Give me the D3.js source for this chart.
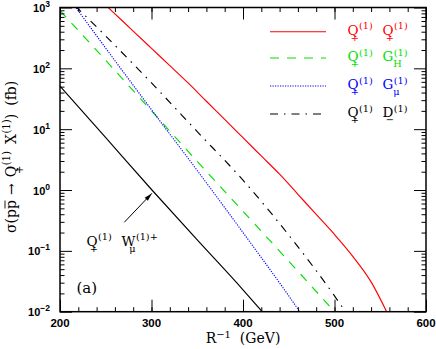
<!DOCTYPE html>
<html><head><meta charset="utf-8">
<script src="https://cdn.jsdelivr.net/npm/d3@7"></script>
<style>body{margin:0;background:#fff} svg{display:block}</style>
</head><body><svg id="c" width="436" height="349"></svg>
<script>
// ---- data (sigma in fb vs R^-1 in GeV) ----
const R_QQ   = [240,260,280,300,320,340,360,380,400,420,440,460,480,500,520,540,557];
const S_QQ   = [1514,787,409,213,111,57.5,28.8,14.5,7.24,3.63,1.82,0.851,0.398,0.186,0.0813,0.0309,0.010];
const R_QGH  = [200,250,300,350,400,450,500];
const S_QGH  = [891,135,20,2.95,0.447,0.0676,0.010];
const R_QGmu = [200,250,300,350,400,450,462];
const S_QGmu = [2291,214,20.9,2.09,0.200,0.0182,0.010];
const R_QD   = [200,250,300,350,400,450,500,512];
const S_QD   = [1862,339,57.5,9.12,1.45,0.182,0.0182,0.010];
const R_QW   = [200,250,300,350,400,421];
const S_QW   = [51,7.24,1.02,0.151,0.0229,0.010];
const xTicks = [200,300,400,500,600];
const xTickLabels = ["200","300","400","500","600"];
const yTicks = [1e-2,1e-1,1,10,100,1000];
const yTickExp = ["\u22122","\u22121","0","1","2","3"];

const svg = d3.select("#c");
const X0=60, X1=426, Y0=7.5, Y1=311.7;
const x = d3.scaleLinear([200,600],[X0,X1]);
const y = d3.scaleLog([0.01,1000],[Y1,Y0]);
const SERIF = "'DejaVu Serif', serif";
const SANS = "'Liberation Sans', Arial, sans-serif";

svg.append("clipPath").attr("id","clip").append("rect")
  .attr("x",X0).attr("y",Y0).attr("width",X1-X0).attr("height",Y1-Y0);

const series = [
  {R:R_QQ,   S:S_QQ,   color:"#ff0000", dash:null},
  {R:R_QGH,  S:S_QGH,  color:"#00e000", dash:"9,8"},
  {R:R_QGmu, S:S_QGmu, color:"#0000ff", dash:"1.2,1.3"},
  {R:R_QD,   S:S_QD,   color:"#000000", dash:"8,6,1.5,6"},
  {R:R_QW,   S:S_QW,   color:"#000000", dash:null}
];
const line = d3.line().x(d=>x(d[0])).y(d=>y(d[1])).curve(d3.curveMonotoneX);
const gc = svg.append("g").attr("clip-path","url(#clip)");
series.forEach(s=>{
  gc.append("path").attr("d", line(s.R.map((r,i)=>[r,s.S[i]])))
    .attr("fill","none").attr("stroke",s.color).attr("stroke-width",1.15)
    .attr("stroke-dasharray", s.dash);
});

// ---- axes ----
const xMinor = d3.range(200,601,20);
const yMinor = [];
for (let e=-2;e<3;e++) for (let k=2;k<10;k++) yMinor.push(k*Math.pow(10,e));
function styleAx(g){ g.select(".domain").remove(); g.selectAll("line").attr("stroke","#000").attr("stroke-width",1); g.selectAll("text").remove(); }
svg.append("g").attr("transform",`translate(0,${Y1})`).call(d3.axisBottom(x).tickValues(xMinor).tickSize(-4.5).tickFormat("")).call(styleAx);
svg.append("g").attr("transform",`translate(0,${Y1})`).call(d3.axisBottom(x).tickValues(xTicks).tickSize(-12).tickFormat("")).call(styleAx);
svg.append("g").attr("transform",`translate(0,${Y0})`).call(d3.axisTop(x).tickValues(xMinor).tickSize(-4.5).tickFormat("")).call(styleAx);
svg.append("g").attr("transform",`translate(0,${Y0})`).call(d3.axisTop(x).tickValues(xTicks).tickSize(-12).tickFormat("")).call(styleAx);
svg.append("g").attr("transform",`translate(${X0},0)`).call(d3.axisLeft(y).tickValues(yMinor).tickSize(-4.5).tickFormat("")).call(styleAx);
svg.append("g").attr("transform",`translate(${X0},0)`).call(d3.axisLeft(y).tickValues(yTicks).tickSize(-12).tickFormat("")).call(styleAx);
svg.append("g").attr("transform",`translate(${X1},0)`).call(d3.axisRight(y).tickValues(yMinor).tickSize(-4.5).tickFormat("")).call(styleAx);
svg.append("g").attr("transform",`translate(${X1},0)`).call(d3.axisRight(y).tickValues(yTicks).tickSize(-12).tickFormat("")).call(styleAx);
svg.append("rect").attr("x",X0).attr("y",Y0).attr("width",X1-X0).attr("height",Y1-Y0)
  .attr("fill","none").attr("stroke","#000").attr("stroke-width",1.5);

// tick labels
xTicks.forEach((v,i)=>{
  svg.append("text").attr("x",x(v)).attr("y",Y1+15).attr("text-anchor","middle")
    .attr("font-family",SANS).attr("font-weight","bold").attr("font-size",11.5).text(xTickLabels[i]);
});
yTicks.forEach((v,i)=>{
  const t = svg.append("text").attr("x",50).attr("y",y(v)+4.5).attr("text-anchor","end")
    .attr("font-family",SANS).attr("font-weight","bold").attr("font-size",11);
  t.append("tspan").text("10");
  t.append("tspan").attr("dy",-5).attr("font-size",8.5).text(yTickExp[i]);
});

// ---- rich text helper ----
function glyph(g, cx, yb, base, sup, sub, subFrac, fs, color){
  const t = g.append("text").attr("x",cx).attr("y",yb).attr("font-family",SERIF).attr("font-size",fs).attr("fill",color).text(base);
  const w = t.node().getComputedTextLength();
  let end = cx + w;
  const sfs = fs*0.72;
  if (sup){
    const s = g.append("text").attr("x",cx+w+0.5).attr("y",yb-fs*0.4).attr("font-family",SERIF).attr("font-size",sfs).attr("fill",color).text(sup);
    end = Math.max(end, cx+w+0.5+s.node().getComputedTextLength());
  }
  if (sub){
    const sx = cx + subFrac*w;
    const s = g.append("text").attr("x",sx).attr("y",yb+fs*0.48).attr("font-family",SERIF).attr("font-size",sfs).attr("fill",color).text(sub);
    end = Math.max(end, sx+s.node().getComputedTextLength());
  }
  return end;
}

// ---- legend ----
const legend = [
  {color:"#ff0000", dash:null,       b2:"Q", s2:"(1)", u2:"+", f2:0.3},
  {color:"#00e000", dash:"9,8",      b2:"G", s2:"(1)", u2:"H", f2:1.0},
  {color:"#0000ff", dash:"1.2,1.3",  b2:"G", s2:"(1)", u2:"\u03bc", f2:1.0},
  {color:"#000000", dash:"8,6,1.5,6",b2:"D", s2:"(1)", u2:"\u2212", f2:0.3}
];
const legY = [31.7,58,86,114];
legend.forEach((l,i)=>{
  const ly = legY[i];
  svg.append("line").attr("x1",270).attr("x2",326).attr("y1",ly).attr("y2",ly)
    .attr("stroke",l.color).attr("stroke-width",1.15).attr("stroke-dasharray",l.dash);
  const g = svg.append("g");
  glyph(g, 347.5, ly+3, "Q", "(1)", "+", 0.3, 13.5, l.color);
  glyph(g, 382.5, ly+3, l.b2, l.s2, l.u2, l.f2, 13.5, l.color);
});

// ---- annotation Q W ----
{
  const g = svg.append("g");
  glyph(g, 86.5, 245.5, "Q", "(1)", "+", 0.3, 13.5, "#000");
  glyph(g, 121.5, 245.5, "W", "(1)+", "\u03bc", 0.55, 13.5, "#000");
  const ax0 = x(270.3), ay0 = y(0.295), ax1 = x(300.3), ay1 = y(0.88);
  svg.append("line").attr("x1",ax0).attr("y1",ay0).attr("x2",ax1).attr("y2",ay1).attr("stroke","#000").attr("stroke-width",1);
  const ang = Math.atan2(ay1-ay0, ax1-ax0), L=8, Wd=2.2;
  const bx = ax1 - L*Math.cos(ang), by = ay1 - L*Math.sin(ang);
  const px = -Math.sin(ang), py = Math.cos(ang);
  svg.append("path").attr("d",`M${ax1},${ay1}L${bx+Wd*px},${by+Wd*py}L${bx-Wd*px},${by-Wd*py}Z`).attr("fill","#000");
}
svg.append("text").attr("x",76.5).attr("y",292.5).attr("font-family",SERIF).attr("font-size",15).text("(a)");

// ---- axis titles ----
{
  const g = svg.append("g").attr("transform","translate(243,343)");
  const t = g.append("text").attr("font-family",SERIF).attr("font-size",14).attr("text-anchor","middle");
  t.append("tspan").text("R");
  t.append("tspan").attr("dy",-5.5).attr("font-size",10).text("\u22121");
  t.append("tspan").attr("dy",5.5).text("\u00a0\u00a0(GeV)");
}
{
  const g = svg.append("g").attr("transform","translate(16,233) rotate(-90)");
  const fs = 14;
  let cx = 0;
  const t1 = g.append("text").attr("x",cx).attr("y",0).attr("font-family",SERIF).attr("font-size",fs).text("\u03c3(p");
  cx += t1.node().getComputedTextLength();
  const t2 = g.append("text").attr("x",cx).attr("y",0).attr("font-family",SERIF).attr("font-size",fs).text("p");
  const pw = t2.node().getComputedTextLength();
  g.append("line").attr("x1",cx+0.5).attr("x2",cx+pw-0.5).attr("y1",-11).attr("y2",-11).attr("stroke","#000").attr("stroke-width",0.9);
  cx += pw;
  const t3 = g.append("text").attr("x",cx+5).attr("y",0).attr("font-family",SERIF).attr("font-size",fs).text("\u2192");
  cx += 5 + t3.node().getComputedTextLength() + 6;
  cx = glyph(g, cx, 0, "Q", "(1)", "+", 0.3, fs, "#000") + 7;
  cx = glyph(g, cx, 0, "X", "(1)", null, 0, fs, "#000");
  const t4 = g.append("text").attr("x",cx).attr("y",0).attr("font-family",SERIF).attr("font-size",fs).text(")");
  cx += t4.node().getComputedTextLength() + 8;
  g.append("text").attr("x",cx).attr("y",0).attr("font-family",SERIF).attr("font-size",fs).text("(fb)");
}
</script></body></html>
